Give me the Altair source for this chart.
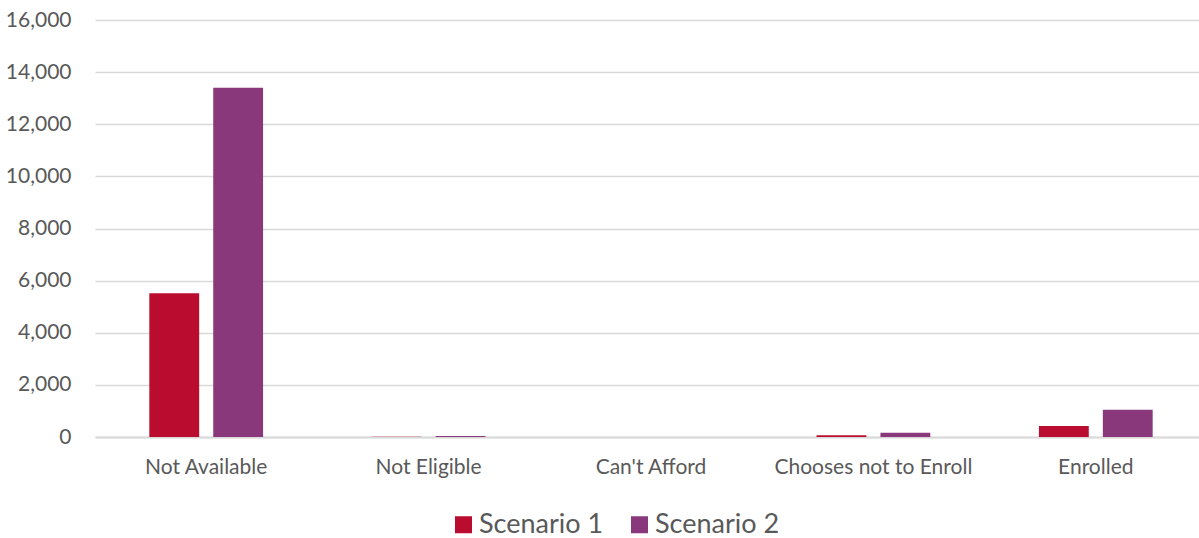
import altair as alt
import pandas as pd

categories = ["Not Available", "Not Eligible", "Can't Afford", "Chooses not to Enroll", "Enrolled"]
scenario_1 = [5520, 10, 0, 70, 420]
scenario_2 = [13400, 40, 0, 165, 1050]
series = ["Scenario 1", "Scenario 2"]
colors = ["#BA0C2F", "#8A387C"]
y_ticks = [0, 2000, 4000, 6000, 8000, 10000, 12000, 14000, 16000]

rows = []
for i, cat in enumerate(categories):
    rows.append({"category": cat, "series": series[0], "value": scenario_1[i]})
    rows.append({"category": cat, "series": series[1], "value": scenario_2[i]})
df = pd.DataFrame(rows)

font = "Lato"
text_grey = "#595959"

chart = (
    alt.Chart(df)
    .mark_bar()
    .encode(
        x=alt.X(
            "category:N",
            sort=categories,
            title=None,
            scale=alt.Scale(paddingInner=0, paddingOuter=0, range=[0, 1112]),
            axis=alt.Axis(
                labelAngle=0,
                labelFontSize=21,
                labelColor=text_grey,
                labelFont=font,
                labelPadding=19,
                labelLimit=400,
                ticks=False,
                domainColor="#d9d9d9",
                domainWidth=2,
                grid=False,
            ),
        ),
        xOffset=alt.XOffset(
            "series:N",
            sort=series,
            scale=alt.Scale(paddingInner=0.22, paddingOuter=0.85),
        ),
        y=alt.Y(
            "value:Q",
            title=None,
            scale=alt.Scale(domain=[0, 16000], nice=False),
            axis=alt.Axis(
                values=y_ticks,
                format=",.0f",
                labelFontSize=21,
                labelColor=text_grey,
                labelFont=font,
                labelPadding=24,
                ticks=False,
                domain=False,
                gridColor="#d9d9d9",
                gridWidth=1.5,
            ),
        ),
        color=alt.Color(
            "series:N",
            sort=series,
            scale=alt.Scale(domain=series, range=colors),
            legend=alt.Legend(
                title=None,
                orient="none",
                legendX=355,
                legendY=491,
                padding=0,
                direction="horizontal",
                symbolType="square",
                symbolSize=289,
                symbolStrokeWidth=0,
                labelFontSize=27,
                labelColor=text_grey,
                labelFont=font,
                labelLimit=300,
                columnPadding=22,
                labelOffset=2,
            ),
        ),
    )
    .properties(
        width=1104,
        height=417,
        background="white",
        autosize=alt.AutoSizeParams(type="none"),
        padding={"left": 95, "top": 20, "right": 0, "bottom": 101},
    )
    .configure_view(strokeWidth=0)
)

chart.save("out.html", embed_options={"renderer": "svg", "actions": False})
